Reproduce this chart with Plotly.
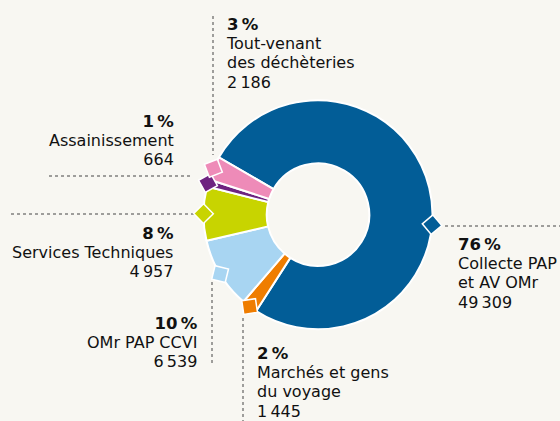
import math
import plotly.graph_objects as go

# Tonnages by activity (clockwise order, starting with the largest slice)
labels = [
    "Collecte PAP et AV OMr",
    "Marchés et gens du voyage",
    "OMr PAP CCVI",
    "Services Techniques",
    "Assainissement",
    "Tout-venant des déchèteries",
]
values = [49309, 1445, 6539, 4957, 664, 2186]
label_lines = [
    ["Collecte PAP", "et AV OMr"],
    ["Marchés et gens", "du voyage"],
    ["OMr PAP CCVI"],
    ["Services Techniques"],
    ["Assainissement"],
    ["Tout-venant", "des déchèteries"],
]
colors = ["#025d97", "#ef7d00", "#a8d5f2", "#c8d400", "#6e2380", "#ee8bb8"]

W, H = 560, 421
BG = "#f8f7f2"
INK = "#111111"
FONT = "DejaVu Sans"

# donut geometry in pixels
CX, CY, R = 318.0, 214.7, 114.5
HOLE = 0.448
ROTATION = -60  # start angle of the first slice, degrees clockwise from 12 o'clock


def px(x):
    return x / W


def py(y):
    return 1 - y / H


# label placement: text anchor x, first line y, alignment, leader line, marker angle override
placement = [
    dict(x=457, y=245, align="left", lead=((445, 226), (560, 226)), angle=95),
    dict(x=256, y=354, align="left", lead=((243, 318), (243, 421))),
    dict(x=199, y=323, align="right", lead=((212, 282), (212, 366))),
    dict(x=175, y=233, align="right", lead=((11, 214), (194, 214))),
    dict(x=175, y=121, align="right", lead=((49, 176), (191, 176))),
    dict(x=225, y=25, align="left", lead=((213, 16), (213, 155))),
]
LINE_H = 19.2
BASE_SIZE = LINE_H / 1.3  # plotly spaces lines by 1.3 em of the annotation font
BODY_PX = 16
PCT_PX = 16.5

total = sum(values)


def fmt_int(v):
    return f"{v:,}".replace(",", "\u2009")


fig = go.Figure()
fig.add_trace(
    go.Pie(
        labels=labels,
        values=values,
        sort=False,
        direction="clockwise",
        rotation=ROTATION,
        hole=HOLE,
        marker=dict(colors=colors, line=dict(color="white", width=2)),
        textinfo="none",
        hoverinfo="label+value+percent",
        showlegend=False,
        domain=dict(
            x=[px(CX - R), px(CX + R)],
            y=[py(CY + R), py(CY - R)],
        ),
    )
)

shapes = []
annotations = []
start = ROTATION
for i, v in enumerate(values):
    span = 360.0 * v / total
    mid = start + span / 2
    start += span
    p = placement[i]
    ang = math.radians(p.get("angle", mid))
    # diamond marker sitting on the outer edge, one corner pointing outward
    mx, my = CX + R * math.sin(ang), CY - R * math.cos(ang)
    ux, uy = math.sin(ang), -math.cos(ang)
    vx, vy = -uy, ux
    d = 9.8
    pts = [
        (mx + d * ux, my + d * uy),
        (mx + d * vx, my + d * vy),
        (mx - d * ux, my - d * uy),
        (mx - d * vx, my - d * vy),
    ]
    path = "M " + " L ".join(f"{px(a):.5f},{py(b):.5f}" for a, b in pts) + " Z"
    shapes.append(
        dict(
            type="path", xref="paper", yref="paper", path=path,
            fillcolor=colors[i], line=dict(color="white", width=1.5), layer="above",
        )
    )
    (x0, y0), (x1, y1) = p["lead"]
    shapes.append(
        dict(
            type="line", xref="paper", yref="paper",
            x0=px(x0), y0=py(y0), x1=px(x1), y1=py(y1),
            line=dict(color="#444444", width=1, dash="dot"), layer="below",
        )
    )
    pct = round(100 * v / total)
    lines = [f'<span style="font-size:{PCT_PX}px;font-weight:bold">{pct}\u2009%</span>']
    lines += [f'<span style="font-size:{BODY_PX}px">{t}</span>' for t in label_lines[i]]
    lines += [f'<span style="font-size:{BODY_PX}px">{fmt_int(v)}</span>']
    n = len(lines)
    annotations.append(
        dict(
            x=px(p["x"]), y=py(p["y"] + (n - 1) / 2 * LINE_H), xref="paper", yref="paper",
            text="<br>".join(lines), showarrow=False, xanchor=p["align"], yanchor="middle",
            align=p["align"], borderpad=0,
            font=dict(family=FONT, size=BASE_SIZE, color=INK),
        )
    )

fig.update_layout(
    width=W, height=H,
    margin=dict(l=0, r=0, t=0, b=0),
    paper_bgcolor=BG, plot_bgcolor=BG,
    shapes=shapes, annotations=annotations,
)
fig.write_html("out.html")
